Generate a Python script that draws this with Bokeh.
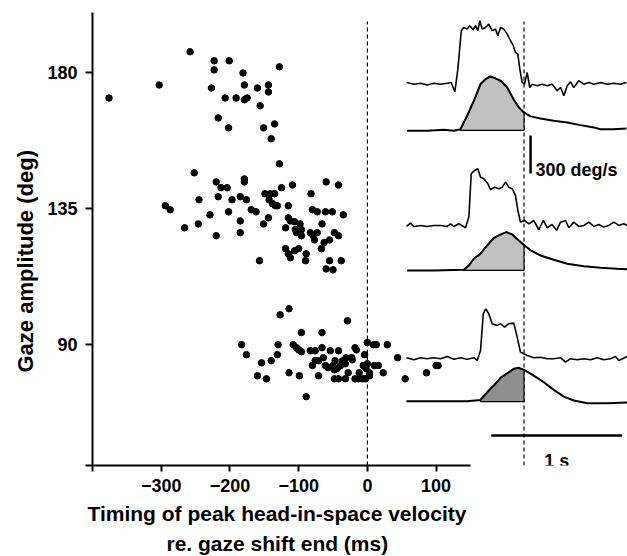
import numpy as np
from bokeh.plotting import figure
from bokeh.models import Range1d, FixedTicker, Title
from bokeh.embed import file_html
from bokeh.resources import INLINE
from bokeh.core.properties import value

FONT = "Liberation Sans"

# ---------------- scatter data: timing of peak head velocity (ms) vs gaze amplitude (deg)
timing_ms = [
    # large gaze shifts
    -376, -303, -258, -223, -223, -201, -227, -181, -179, -160, -144, -144, -128,
    -207, -191, -179, -175, -156, -217, -202, -151, -135, -140,
    # medium gaze shifts
    -128, -252, -220, -213, -204, -179, -179, -294, -287, -245, -217, -197, -185,
    -176, -229, -202, -169, -162, -266, -246, -220, -185, -185, -157, -125, -109,
    -60, -42, -149, -141, -135, -82, -143, -138, -134, -131, -115, -80, -73, -61,
    -51, -35, -144, -151, -115, -112, -106, -98, -66, -119, -105, -96, -103, -96,
    -83, -79, -73, -77, -48, -42, -55, -63, -119, -106, -100, -115, -112, -89,
    -90, -67, -55, -38, -60, -50,
    # small gaze shifts
    -114, -127, -96, -66, -183, -176, -130, -131, -140, -154, -160, -147, -108,
    -103, -100, -96, -83, -76, -66, -54, -64, -76, -71, -80, -61, -57, -48, -114,
    -99, -71, -48, -89, -29, -42, 0, 9, 13, 29, -18, -16, -4, -31, -23, -22, -36,
    -47, -32, -39, -50, -44, -6, 0, 10, 16, -2, 44, -28, -12, 3, 23, 86, 100, 103,
    -42, -32, -18, -13, -7, -3, 3, 55,
]
gaze_amp_deg = [
    171.7, 176.0, 187.0, 184.0, 181.0, 184.0, 175.0, 180.0, 176.0, 175.0, 176.0, 173.7, 182.0,
    171.7, 171.7, 171.1, 171.7, 169.1, 165.1, 161.8, 161.8, 163.1, 158.2,
    149.9, 146.9, 143.9, 142.0, 142.0, 144.9, 143.9, 136.0, 134.7, 138.0, 139.0, 138.0, 139.0,
    138.0, 133.0, 134.0, 134.7, 134.0, 128.7, 130.0, 126.1, 131.0, 127.1, 117.8, 142.0, 142.9,
    143.9, 142.9, 140.0, 140.0, 140.0, 140.0, 138.0, 136.7, 136.0, 136.0, 136.0, 134.7, 134.0, 134.0,
    134.0, 133.0, 132.0, 130.0, 132.0, 131.0, 130.7, 130.0, 130.0, 128.7, 128.1, 128.1, 127.1, 126.1,
    127.1, 126.1, 127.1, 124.7, 127.1, 126.1, 124.7, 123.8, 121.8, 121.1, 121.8, 120.1, 118.8, 120.1,
    117.8, 121.8, 117.8, 117.8, 115.1, 114.8,
    101.9, 99.9, 94.0, 94.0, 90.0, 86.7, 90.0, 86.7, 84.7, 84.0, 79.7, 78.7, 90.0,
    89.0, 88.3, 87.7, 88.0, 88.0, 89.0, 88.0, 85.7, 84.7, 84.7, 83.1, 83.1, 82.4, 81.7, 80.7,
    79.7, 79.7, 78.7, 72.8, 97.9, 88.0, 90.7, 90.0, 90.0, 90.0, 89.0, 88.3, 86.7, 85.7, 85.7, 85.0, 84.7,
    84.7, 83.7, 83.1, 83.1, 82.1, 83.1, 83.7, 83.1, 83.1, 82.1, 85.7, 80.7, 80.7, 80.7, 80.7, 80.7, 83.1, 83.1,
    78.7, 78.7, 78.7, 78.7, 78.7, 78.7, 79.7, 78.7,
]

x_ticks = [-400, -300, -200, -100, 0, 100]
y_ticks = [50, 90, 135, 180]

# ---------------- example velocity traces (time re. gaze end, ms ; velocity, deg/s)
g1_t = [-897, -841, -790, -739, -689, -637, -586, -556, -528, -505, -479, -460, -434, -414, -388, -370,
        -353, -337, -319, -294, -269, -243, -218, -200, -179, -154, -128, -103, -82, -65, -47, -32, -14,
        4, 24, 44, 63, 101, 139, 177, 215, 253, 279, 304, 330, 355, 380, 418, 457, 495, 533, 584, 635,
        686, 737, 782]
g1_v = [8, -6, 2, -13, 2, -6, 2, 8, -66, 113, 416, 442, 429, 456, 424, 456, 416, 495, 429, 442, 468,
        416, 429, 377, 442, 429, 389, 337, 298, 245, 231, 113, 8, -6, 87, -32, -6, -18, -6, -18, -6, -58,
        -32, -97, -18, 13, -32, 21, -6, 8, -6, 8, -6, 2, -6, 8]
h1_t = [-892, -739, -612, -536, -485, -434, -383, -332, -294, -256, -218, -179, -128, -78, -40, 0, 50,
        126, 227, 330, 431, 533, 584, 686, 782]
h1_v = [-2, -2, 6, -2, 10, 116, 234, 366, 405, 426, 411, 392, 339, 242, 182, 142, 111, 95, 77, 63, 42,
        24, 10, 10, 16]

g2_t = [-897, -866, -841, -790, -739, -689, -637, -586, -561, -536, -498, -447, -421, -403, -378, -353,
        -332, -307, -276, -256, -225, -192, -166, -141, -116, -90, -65, -47, -27, 4, 37, 75, 113, 147,
        177, 215, 248, 279, 317, 342, 380, 418, 457, 495, 533, 571, 609, 647, 686, 724, 762, 788]
g2_v = [-8, 18, -8, 0, -8, 0, 0, -8, 13, -8, 13, -18, 66, 408, 434, 448, 381, 369, 329, 282, 302, 290,
        302, 342, 302, 290, 237, 118, 26, 39, 13, 39, -34, 39, -18, 8, -39, 26, 39, -18, 26, -8, 0, 26,
        -8, 8, -13, 0, 26, 0, 13, 0]
h2_t = [-892, -689, -460, -421, -383, -332, -281, -231, -179, -134, -90, -40, 0, 50, 126, 202, 330, 457,
        584, 711, 788]
h2_v = [0, 0, 6, 39, 92, 132, 197, 255, 284, 302, 284, 237, 200, 158, 118, 92, 53, 32, 21, 13, 10]

g3_t = [-897, -841, -790, -739, -689, -637, -586, -536, -485, -434, -383, -357, -332, -311, -292, -269,
        -243, -205, -179, -149, -116, -78, -52, -27, -2, 24, 75, 126, 177, 227, 279, 317, 355, 406, 457,
        508, 559, 609, 660, 698, 724, 788]
g3_v = [6, -10, 6, -2, 6, -2, 16, -6, 6, -6, 6, -16, 63, 353, 392, 353, 274, 261, 274, 247, 274, 279,
        168, 50, 37, 24, 6, 10, -2, -2, 6, -29, -2, -10, -2, -10, 6, -10, -2, 16, -16, 16]
h3_t = [-897, -689, -434, -332, -281, -231, -179, -128, -78, -40, 0, 75, 151, 227, 304, 380, 482, 635, 788]
h3_v = [2, 2, 2, 13, 73, 126, 187, 223, 258, 266, 250, 205, 152, 92, 39, 8, -13, -13, -8]

head_onsets = [-485, -460, -332]

# ---------------- layout constants (stacking of the traces on the velocity axis)
OFF_G1, OFF_H1 = 3016, 2645
OFF_G2, OFF_H2 = 1895, 1540
OFF_G3, OFF_H3 = 845, 505

p = figure(width=627, height=556,
           x_range=Range1d(-400, 378.5), y_range=Range1d(50, 200),
           min_border_left=92, min_border_right=0, min_border_top=12, min_border_bottom=91,
           toolbar_location=None, output_backend="svg")
p.extra_x_ranges = {"t": Range1d(-3294, 790)}
p.extra_y_ranges = {"v": Range1d(0, 3576)}

p.outline_line_color = None
p.xgrid.visible = False
p.ygrid.visible = False
p.background_fill_color = "white"
p.border_fill_color = "white"

for ax in (p.xaxis, p.yaxis):
    ax.axis_line_width = 2
    ax.axis_line_color = "black"
    ax.major_tick_line_width = 2
    ax.major_tick_line_color = "black"
    ax.major_tick_in = 0
    ax.minor_tick_line_color = None
    ax.major_label_text_font = FONT
    ax.major_label_text_font_style = "bold"
    ax.major_label_text_font_size = "18px"
    ax.major_label_text_color = "black"

p.xaxis.ticker = FixedTicker(ticks=x_ticks)
p.xaxis.major_label_overrides = {-400: ""}
p.xaxis.bounds = (-400, 150)
p.xaxis.major_tick_out = 6
p.xaxis.major_label_standoff = 7

p.yaxis.ticker = FixedTicker(ticks=y_ticks)
p.yaxis.major_label_overrides = {50: ""}
p.yaxis.major_tick_out = 7
p.yaxis.major_label_standoff = 8

# dashed reference lines
p.segment(x0=[0], y0=[50], x1=[0], y1=[197], line_color="black", line_width=1.2, line_dash="4 3")
p.segment(x0=[0], y0=[0], x1=[0], y1=[3505], line_color="black", line_width=1.2, line_dash="4 3",
          x_range_name="t", y_range_name="v")

# scatter
p.scatter(timing_ms, gaze_amp_deg, size=6.5, marker="circle", fill_color="black", line_color="black")

# shaded head-velocity areas up to gaze end
heads = [(h1_t, h1_v, OFF_H1, "#c0c0c0"), (h2_t, h2_v, OFF_H2, "#c0c0c0"), (h3_t, h3_v, OFF_H3, "#8f8f8f")]
for (t, v, off, col), onset in zip(heads, head_onsets):
    t = np.asarray(t, float)
    v = np.asarray(v, float)
    m = (t >= onset) & (t <= 0)
    xs = list(t[m]) + [0.0, float(onset)]
    ys = list(v[m] + off) + [off, off]
    p.patch(xs, ys, fill_color=col, line_color="black", line_width=1.2,
            x_range_name="t", y_range_name="v")

gazes = [(g1_t, g1_v, OFF_G1), (g2_t, g2_v, OFF_G2), (g3_t, g3_v, OFF_G3)]
for t, v, off in gazes:
    p.line(t, list(np.asarray(v, float) + off), line_color="black", line_width=1.6,
           x_range_name="t", y_range_name="v")
for t, v, off, _ in heads:
    p.line(t, list(np.asarray(v, float) + off), line_color="black", line_width=2,
           x_range_name="t", y_range_name="v")

# scale bars
p.segment(x0=[50], y0=[OFF_H1 - 340], x1=[50], y1=[OFF_H1 - 40], line_color="black", line_width=2.5,
          x_range_name="t", y_range_name="v")
p.segment(x0=[-250], y0=[237], x1=[750], y1=[237], line_color="black", line_width=2.5,
          x_range_name="t", y_range_name="v")
p.text(x=[88], y=[2329], text=["300 deg/s"], text_font=value(FONT), text_font_style="bold",
       text_font_size="18px", text_color="black", text_baseline="alphabetic", text_align="left",
       x_range_name="t", y_range_name="v")
p.text(x=[250], y=[39], text=["1 s"], text_font=value(FONT), text_font_style="bold",
       text_font_size="18px", text_color="black", text_baseline="alphabetic", text_align="center",
       x_range_name="t", y_range_name="v")

# axis titles (as side titles so they can sit outside the frame)
for txt, off, so in (("Timing of peak head-in-space velocity", -5, 10), ("re. gaze shift end (ms)", 74, 0)):
    p.add_layout(Title(text=txt, align="left", offset=off, standoff=so,
                       text_font=FONT, text_font_style="bold", text_font_size="21px",
                       text_color="black"), "below")
p.add_layout(Title(text="Gaze amplitude (deg)", align="left", offset=93, standoff=13,
                   text_font=FONT, text_font_style="bold", text_font_size="22px",
                   text_color="black"), "left")

open("out.html", "w").write(file_html(p, INLINE))
